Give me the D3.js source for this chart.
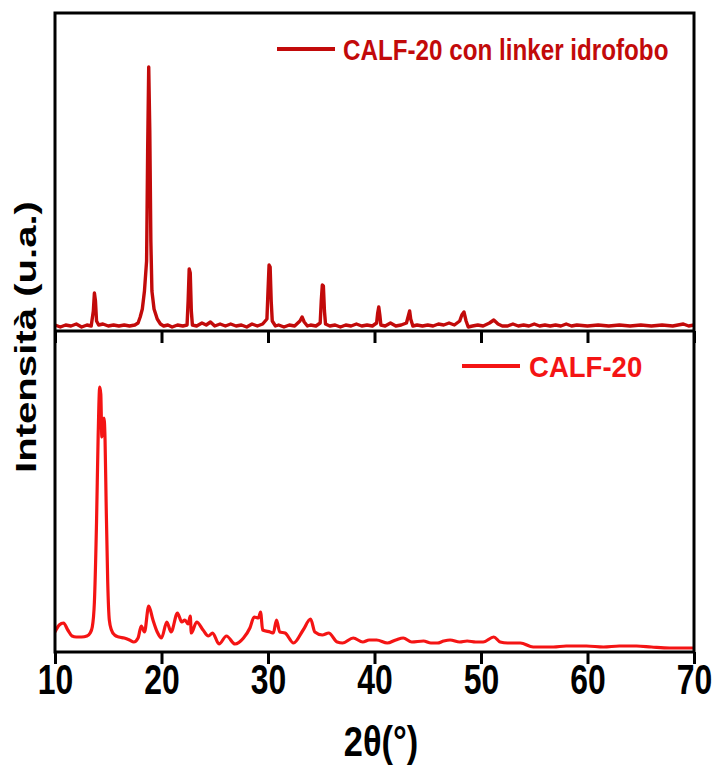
<!DOCTYPE html>
<html>
<head>
<meta charset="utf-8">
<script src="https://cdn.jsdelivr.net/npm/d3@7"></script>
<style>
  html, body { margin: 0; padding: 0; background: #fff; }
  svg { display: block; }
  text { font-family: Arial, "Liberation Sans", sans-serif; font-weight: bold; }
</style>
</head>
<body>
<svg id="chart" width="713" height="765"></svg>
<script>
// ---- Data ----
const xTicks = [10, 20, 30, 40, 50, 60, 70];
const xLabel = "2θ(°)";
const yLabel = "Intensità (u.a.)";
const seriesNames = ["CALF-20 con linker idrofobo", "CALF-20"];

// Top panel: CALF-20 con linker idrofobo (2θ, intensity a.u.)
const topTheta = [10.0,10.5,11.0,11.5,12.0,12.5,13.0,13.4,13.6,13.7,13.8,13.9,14.1,14.5,15.0,15.5,16.0,16.5,17.0,17.5,17.8,18.0,18.2,18.4,18.6,18.7,18.8,18.9,19.0,19.1,19.3,19.6,19.9,20.2,20.6,21.0,21.5,22.0,22.4,22.5,22.6,22.7,22.8,22.9,23.3,23.8,24.2,24.6,25.0,25.5,26.0,26.5,27.0,27.5,28.0,28.5,29.0,29.5,29.9,30.0,30.1,30.2,30.3,30.4,30.7,31.0,31.5,32.0,32.5,33.0,33.2,33.4,33.7,34.0,34.5,34.9,35.0,35.1,35.2,35.3,35.4,35.8,36.3,36.8,37.3,37.8,38.3,38.8,39.3,39.8,40.2,40.3,40.4,40.5,40.6,41.0,41.5,42.0,42.5,43.0,43.2,43.3,43.4,43.6,44.0,44.5,45.0,45.5,46.0,46.5,47.0,47.5,48.0,48.2,48.4,48.6,48.8,49.2,49.7,50.2,50.8,51.2,51.6,52.0,52.5,53.0,53.5,54.0,54.5,55.0,55.5,56.0,56.5,57.0,57.5,58.0,58.5,59.0,60.0,61.0,62.0,63.0,64.0,65.0,66.0,67.0,68.0,69.0,69.5,70.0];
const topIntensity = [6,4,6,5,7,4,6,5,20,38,30,10,6,7,5,6,5,6,5,6,8,14,22,40,70,180,264,200,90,40,22,12,7,5,6,4,6,5,6,30,62,58,20,6,5,8,6,9,5,7,5,7,5,6,4,7,5,7,12,40,66,64,30,10,5,6,4,6,5,10,14,9,5,6,5,8,30,46,45,20,7,5,6,4,6,5,7,5,6,5,8,18,24,16,6,5,8,5,6,8,16,20,12,5,6,5,6,5,7,6,8,6,10,16,19,10,4,5,6,5,8,11,7,5,5,7,5,6,5,7,5,6,5,6,5,7,5,6,5,6,5,6,5,6,5,6,5,7,5,6];

// Bottom panel: CALF-20 (2θ, intensity a.u.)
const botTheta = [10.0,10.4,10.8,11.2,11.6,12.0,12.5,13.0,13.3,13.5,13.7,13.9,14.05,14.2,14.3,14.4,14.5,14.6,14.7,14.8,14.95,15.1,15.3,15.6,16.0,16.5,17.0,17.4,17.8,18.1,18.4,18.8,19.2,19.6,20.0,20.5,20.9,21.5,21.9,22.2,22.5,22.7,22.8,23.3,23.9,24.4,24.8,25.4,26.1,26.9,27.7,28.3,28.7,29.1,29.3,29.5,30.2,30.5,30.8,31.1,31.6,32.4,33.3,34.0,34.4,35.1,35.7,36.5,37.0,38.0,38.9,39.5,40.2,41.2,42.0,42.7,43.5,44.6,45.3,45.9,46.5,47.1,48.0,48.7,49.5,50.2,51.2,51.8,52.5,53.7,54.9,56.0,56.8,58.0,59.9,61.5,63.0,64.6,66.0,67.7,69.0,70.0];
const botIntensity = [20,27,29,22,16,15,15,16,19,25,50,130,215,265,258,215,222,234,212,150,70,32,22,17,15,14,12,10,14,26,20,46,32,20,14,30,20,39,30,32,28,36,19,30,22,16,19,8,16,8,14,24,35,34,40,22,20,19,32,20,19,9,22,33,20,17,19,10,9,14,10,12,12,9,12,14,10,11,9,9,11,12,10,11,10,10,15,10,9,9,5,5,5,6,6,5,6,6,5,4,4,4];

const colors = ["#c20a0a", "#f41414"];

// ---- Layout ----
const plotL = 55, plotR = 694, plotT = 13, plotM = 331, plotB = 652;

const svg = d3.select("#chart");

const x = d3.scaleLinear().domain([10, 70]).range([plotL, plotR]);
const yTop = d3.scaleLinear().domain([0, 318]).range([plotM, plotT]);
const yBot = d3.scaleLinear().domain([0, 321]).range([plotB, plotM]);

svg.append("clipPath").attr("id", "clipTop")
  .append("rect").attr("x", plotL).attr("y", plotT).attr("width", plotR - plotL).attr("height", plotM - plotT + 2);
svg.append("clipPath").attr("id", "clipBot")
  .append("rect").attr("x", plotL).attr("y", plotM).attr("width", plotR - plotL).attr("height", plotB - plotM);

const topData = topTheta.map((t, i) => [t, topIntensity[i]]);
const botData = botTheta.map((t, i) => [t, botIntensity[i]]);

svg.append("path")
  .datum(botData)
  .attr("clip-path", "url(#clipBot)")
  .attr("fill", "none")
  .attr("stroke", colors[1])
  .attr("stroke-width", 3.2)
  .attr("stroke-linejoin", "round")
  .attr("d", d3.line().x(d => x(d[0])).y(d => yBot(d[1])).curve(d3.curveMonotoneX));

svg.append("path")
  .datum(topData)
  .attr("clip-path", "url(#clipTop)")
  .attr("fill", "none")
  .attr("stroke", colors[0])
  .attr("stroke-width", 3.4)
  .attr("stroke-linejoin", "round")
  .attr("d", d3.line().x(d => x(d[0])).y(d => yTop(d[1])).curve(d3.curveLinear));

// Axes (ticks outward on each panel bottom)
const axTop = svg.append("g").attr("transform", `translate(0,${plotM})`)
  .call(d3.axisBottom(x).tickValues(xTicks).tickSize(12).tickFormat(""));
const axBot = svg.append("g").attr("transform", `translate(0,${plotB})`)
  .call(d3.axisBottom(x).tickValues(xTicks).tickSize(12).tickFormat(d => d));
[axTop, axBot].forEach(g => {
  g.select(".domain").remove();
  g.selectAll(".tick line").attr("stroke", "#000").attr("stroke-width", 3);
});
axBot.selectAll(".tick text")
  .attr("y", 0).attr("dy", 0)
  .attr("transform", "translate(0,42) scale(0.76,1)")
  .attr("fill", "#000")
  .style("font-size", "42px")
  .style("font-family", "Arial, 'Liberation Sans', sans-serif")
  .style("font-weight", "bold");

// Frames
svg.append("rect").attr("x", plotL).attr("y", plotT).attr("width", plotR - plotL).attr("height", plotB - plotT)
  .attr("fill", "none").attr("stroke", "#000").attr("stroke-width", 3);
svg.append("line").attr("x1", plotL).attr("x2", plotR).attr("y1", plotM).attr("y2", plotM)
  .attr("stroke", "#000").attr("stroke-width", 3);

// Axis labels
svg.append("text")
  .attr("transform", `translate(381,756) scale(0.8,1)`)
  .attr("text-anchor", "middle")
  .style("font-size", "43px")
  .attr("fill", "#000")
  .text(xLabel);

svg.append("text")
  .attr("transform", `translate(36,337) rotate(-90)`)
  .attr("text-anchor", "middle")
  .attr("textLength", 272)
  .attr("lengthAdjust", "spacingAndGlyphs")
  .style("font-size", "30px")
  .attr("fill", "#000")
  .text(yLabel);

// Legends
const legends = [
  {name: seriesNames[0], color: colors[0], x1: 277, x2: 335, y: 49, tx: 343, sx: 0.835},
  {name: seriesNames[1], color: colors[1], x1: 462, x2: 520, y: 366, tx: 529, sx: 0.95}
];
legends.forEach(l => {
  svg.append("line").attr("x1", l.x1).attr("x2", l.x2).attr("y1", l.y).attr("y2", l.y)
    .attr("stroke", l.color).attr("stroke-width", 4);
  svg.append("text")
    .attr("transform", `translate(${l.tx},${l.y + 11}) scale(${l.sx},1)`)
    .style("font-size", "29px")
    .attr("fill", l.color)
    .text(l.name);
});
</script>
</body>
</html>
